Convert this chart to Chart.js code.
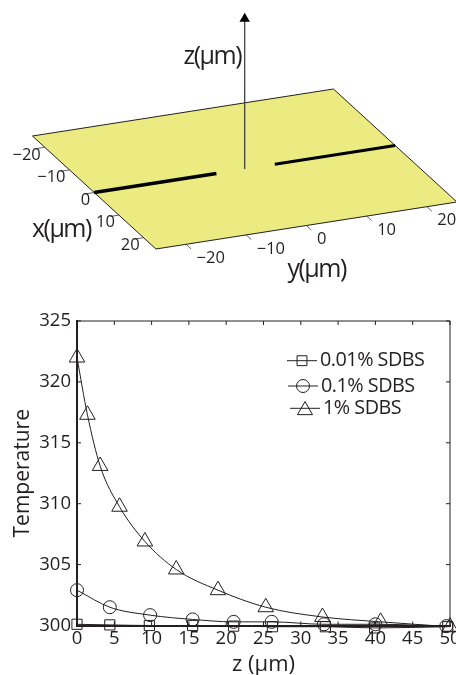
<!DOCTYPE html>
<html>
<head>
<meta charset="utf-8">
<style>
  html, body { margin: 0; padding: 0; background: #fff; overflow: hidden; }
  canvas { position: absolute; left: 0; }
  #surface-chart { top: 0; }
  #temperature-chart { top: 300px; }
</style>
<script src="https://cdn.jsdelivr.net/npm/chart.js@4/dist/chart.umd.js"></script>
</head>
<body>
<canvas id="surface-chart" width="456" height="300"></canvas>
<canvas id="temperature-chart" width="456" height="375"></canvas>
<script>
const ink = '#231f20';
const fontFamily = '"Open Sans", sans-serif';

// top panel, all in micrometres
const surfaceX = [-25, 25, 25, -25, -25];
const surfaceY = [-25, -25, 25, 25, -25];
const electrodeLeftY = [-25, -4.7];
const electrodeRightY = [5, 25];
const zAxisValues = [0, 23.1];
const surfaceTicks = [-20, -10, 0, 10, 20];

// bottom panel
const zTicks = [0, 5, 10, 15, 20, 25, 30, 35, 40, 45, 50];
const temperatureTicks = [300, 305, 310, 315, 320, 325];

const sdbs001Z = [0, 4.4, 9.7, 15.5, 21, 26.2, 33.3, 39.9, 49.7];
const sdbs001T = [300.1, 300.05, 300, 300, 299.95, 299.9, 299.9, 299.8, 299.9];
const sdbs01Z = [0, 4.4, 9.8, 15.5, 21, 26.1, 33.1, 40, 49.5];
const sdbs01T = [302.9, 301.5, 300.85, 300.5, 300.3, 300.3, 300.1, 300.1, 299.95];
const sdbs1Z = [0, 1.4, 3.1, 5.7, 9.1, 13.3, 18.9, 25.3, 32.9, 40.7, 50];
const sdbs1T = [322, 317.3, 313.1, 309.75, 306.9, 304.6, 302.9, 301.5, 300.7, 300.3, 299.9];

// oblique view of the surface on the page
const project = (x, y, z = 0) => ({
    x: 244.7 + x * 2.47 + y * 6.02,
    y: 169 + x * 2.26 - y * 0.94 - z * 6.5
});

const tickSegments = (ticks, from, to) => {
    const points = [];
    ticks.forEach((t) => {
        points.push(from(t), to(t), {x: NaN, y: NaN});
    });
    return points;
};

const surfaceLabels = {
    id: 'surfaceLabels',
    afterDraw(chart) {
        const ctx = chart.ctx;
        const {x: xScale, y: yScale} = chart.scales;
        const put = (text, pos, dx, dy, align, size) => {
            ctx.font = size + 'px ' + fontFamily;
            ctx.textAlign = align;
            ctx.textBaseline = 'middle';
            ctx.fillStyle = ink;
            ctx.fillText(text, xScale.getPixelForValue(pos.x) + dx, yScale.getPixelForValue(pos.y) + dy);
        };
        ctx.save();
        surfaceTicks.forEach((t) => {
            const label = t < 0 ? '\u2212' + (-t) : String(t);
            put(label, project(t, -25), -4, 7.5, 'right', 16.5);
            put(label, project(25, t), 10.5, 14, 'left', 16.5);
        });
        ctx.letterSpacing = '-1.5px';
        put('z(\u03bcm)', project(0, 0, 17.2), -3.7, 0, 'right', 25);
        put('x(\u03bcm)', project(25, -25), -124, -19, 'left', 25);
        put('y(\u03bcm)', project(25, 0), -19, 44.5, 'left', 25);
        ctx.restore();
    }
};

// chart.js paints the last dataset first, so the surface goes at the end
new Chart(document.querySelector('#surface-chart'), {
    type: 'scatter',
    data: {
        datasets: [
            {
                data: zAxisValues.map((z) => project(0, 0, z)),
                showLine: true,
                borderColor: '#333',
                borderWidth: 1.2,
                pointStyle: 'triangle',
                pointRadius: [0, 6],
                pointBackgroundColor: '#000',
                pointBorderColor: '#000',
                pointBorderWidth: 0
            },
            {
                data: electrodeRightY.map((y) => project(0, y)),
                showLine: true,
                borderColor: '#000',
                borderWidth: 3,
                pointRadius: 0
            },
            {
                data: electrodeLeftY.map((y) => project(0, y)),
                showLine: true,
                borderColor: '#000',
                borderWidth: 3.5,
                pointRadius: 0
            },
            {
                data: tickSegments(surfaceTicks, (t) => project(25, t), (t) => project(27, t)),
                showLine: true,
                borderColor: ink,
                borderWidth: 0.7,
                pointRadius: 0
            },
            {
                data: tickSegments(surfaceTicks, (t) => project(t, -25), (t) => project(t, -26.4)),
                showLine: true,
                borderColor: ink,
                borderWidth: 0.7,
                pointRadius: 0
            },
            {
                data: surfaceX.map((x, i) => project(x, surfaceY[i])),
                showLine: true,
                fill: 'shape',
                backgroundColor: '#ebeb82',
                borderColor: ink,
                borderWidth: 1,
                pointRadius: 0
            }
        ]
    },
    options: {
        responsive: false,
        animation: false,
        events: [],
        layout: {padding: 0, autoPadding: false},
        plugins: {legend: {display: false}, tooltip: {enabled: false}},
        scales: {
            x: {type: 'linear', display: false, min: 0, max: 456},
            y: {type: 'linear', display: false, min: 0, max: 300, reverse: true}
        }
    },
    plugins: [surfaceLabels]
});

// matlab style box: ticks inside on all four sides, thin top and right edge
const axisBox = {
    id: 'axisBox',
    beforeDatasetsDraw(chart) {
        const ctx = chart.ctx;
        const {left, right, top, bottom} = chart.chartArea;
        const {x, y} = chart.scales;
        ctx.save();
        ctx.strokeStyle = ink;
        ctx.lineWidth = 1;
        ctx.beginPath();
        ctx.moveTo(left, top);
        ctx.lineTo(right, top);
        ctx.lineTo(right, bottom);
        zTicks.forEach((t) => {
            const px = x.getPixelForValue(t);
            ctx.moveTo(px, bottom);
            ctx.lineTo(px, bottom - 4);
            ctx.moveTo(px, top);
            ctx.lineTo(px, top + 4);
        });
        temperatureTicks.forEach((t) => {
            const py = y.getPixelForValue(t);
            ctx.moveTo(left, py);
            ctx.lineTo(left + 4, py);
            ctx.moveTo(right, py);
            ctx.lineTo(right - 4, py);
        });
        ctx.stroke();
        ctx.restore();
    }
};

const sampleLegend = {
    id: 'sampleLegend',
    afterDraw(chart) {
        const ctx = chart.ctx;
        const rows = [
            {left: 287, y: 60.7},
            {left: 288, y: 86},
            {left: 290, y: 108.3}
        ];
        const legendRadius = {rect: 7, circle: 6.5, triangle: 8.7};
        ctx.save();
        chart.data.datasets.forEach((dataset, i) => {
            const row = rows[i];
            ctx.strokeStyle = ink;
            ctx.fillStyle = 'transparent';
            ctx.lineWidth = 1;
            ctx.beginPath();
            ctx.moveTo(row.left, row.y);
            ctx.lineTo(row.left + 30, row.y);
            ctx.stroke();
            Chart.helpers.drawPoint(ctx, {
                pointStyle: dataset.pointStyle,
                radius: legendRadius[dataset.pointStyle],
                rotation: 0,
                borderWidth: 1
            }, row.left + 15, row.y + (dataset.pointStyle === 'triangle' ? 2 : 0));
            ctx.font = '19.8px ' + fontFamily;
            ctx.letterSpacing = '-0.5px';
            ctx.fillStyle = ink;
            ctx.textAlign = 'left';
            ctx.textBaseline = 'middle';
            ctx.fillText(dataset.label, row.left + 33, row.y);
        });
        ctx.restore();
    }
};

const sampleSeries = (label, zs, temps, pointStyle, radius) => ({
    label: label,
    data: zs.map((z, i) => ({x: z, y: temps[i]})),
    showLine: true,
    cubicInterpolationMode: 'monotone',
    borderColor: ink,
    borderWidth: 1,
    backgroundColor: 'transparent',
    pointStyle: pointStyle,
    pointRadius: radius,
    pointBorderColor: ink,
    pointBackgroundColor: 'transparent',
    pointBorderWidth: 1,
    clip: false
});

new Chart(document.querySelector('#temperature-chart'), {
    type: 'scatter',
    data: {
        datasets: [
            sampleSeries('0.01% SDBS', sdbs001Z, sdbs001T, 'rect', 7.2),
            sampleSeries('0.1% SDBS', sdbs01Z, sdbs01T, 'circle', 6.5),
            sampleSeries('1% SDBS', sdbs1Z, sdbs1T, 'triangle', 9)
        ]
    },
    options: {
        responsive: false,
        animation: false,
        events: [],
        layout: {padding: {top: 21, right: 6, left: 0, bottom: 0}, autoPadding: false},
        plugins: {legend: {display: false}, tooltip: {enabled: false}},
        scales: {
            x: {
                type: 'linear',
                min: 0,
                max: 50,
                afterFit: (scale) => {
                    scale.height = 49.5;
                    scale.paddingLeft = 0;
                    scale.paddingRight = 0;
                },
                afterBuildTicks: (scale) => { scale.ticks = zTicks.map((v) => ({value: v})); },
                grid: {display: false, drawTicks: false},
                border: {display: true, color: ink, width: 2},
                ticks: {
                    color: ink,
                    autoSkip: false,
                    maxRotation: 0,
                    padding: 2,
                    font: {family: fontFamily, size: 18.5}
                },
                title: {
                    display: true,
                    text: 'z (\u03bcm)',
                    color: ink,
                    padding: {top: 0, bottom: -3.2},
                    font: {family: fontFamily, size: 22}
                }
            },
            y: {
                type: 'linear',
                min: 300,
                max: 325,
                afterFit: (scale) => {
                    scale.width = 77;
                    scale.paddingTop = 0;
                    scale.paddingBottom = 0;
                },
                afterBuildTicks: (scale) => { scale.ticks = temperatureTicks.map((v) => ({value: v})); },
                grid: {display: false, drawTicks: false},
                border: {display: true, color: ink, width: 2},
                ticks: {
                    color: ink,
                    autoSkip: false,
                    padding: 6,
                    font: {family: fontFamily, size: 18.5}
                },
                title: {
                    display: true,
                    text: 'Temperature',
                    color: ink,
                    padding: {top: 10, bottom: 0},
                    font: {family: fontFamily, size: 21}
                }
            }
        }
    },
    plugins: [axisBox, sampleLegend]
});
</script>
</body>
</html>
